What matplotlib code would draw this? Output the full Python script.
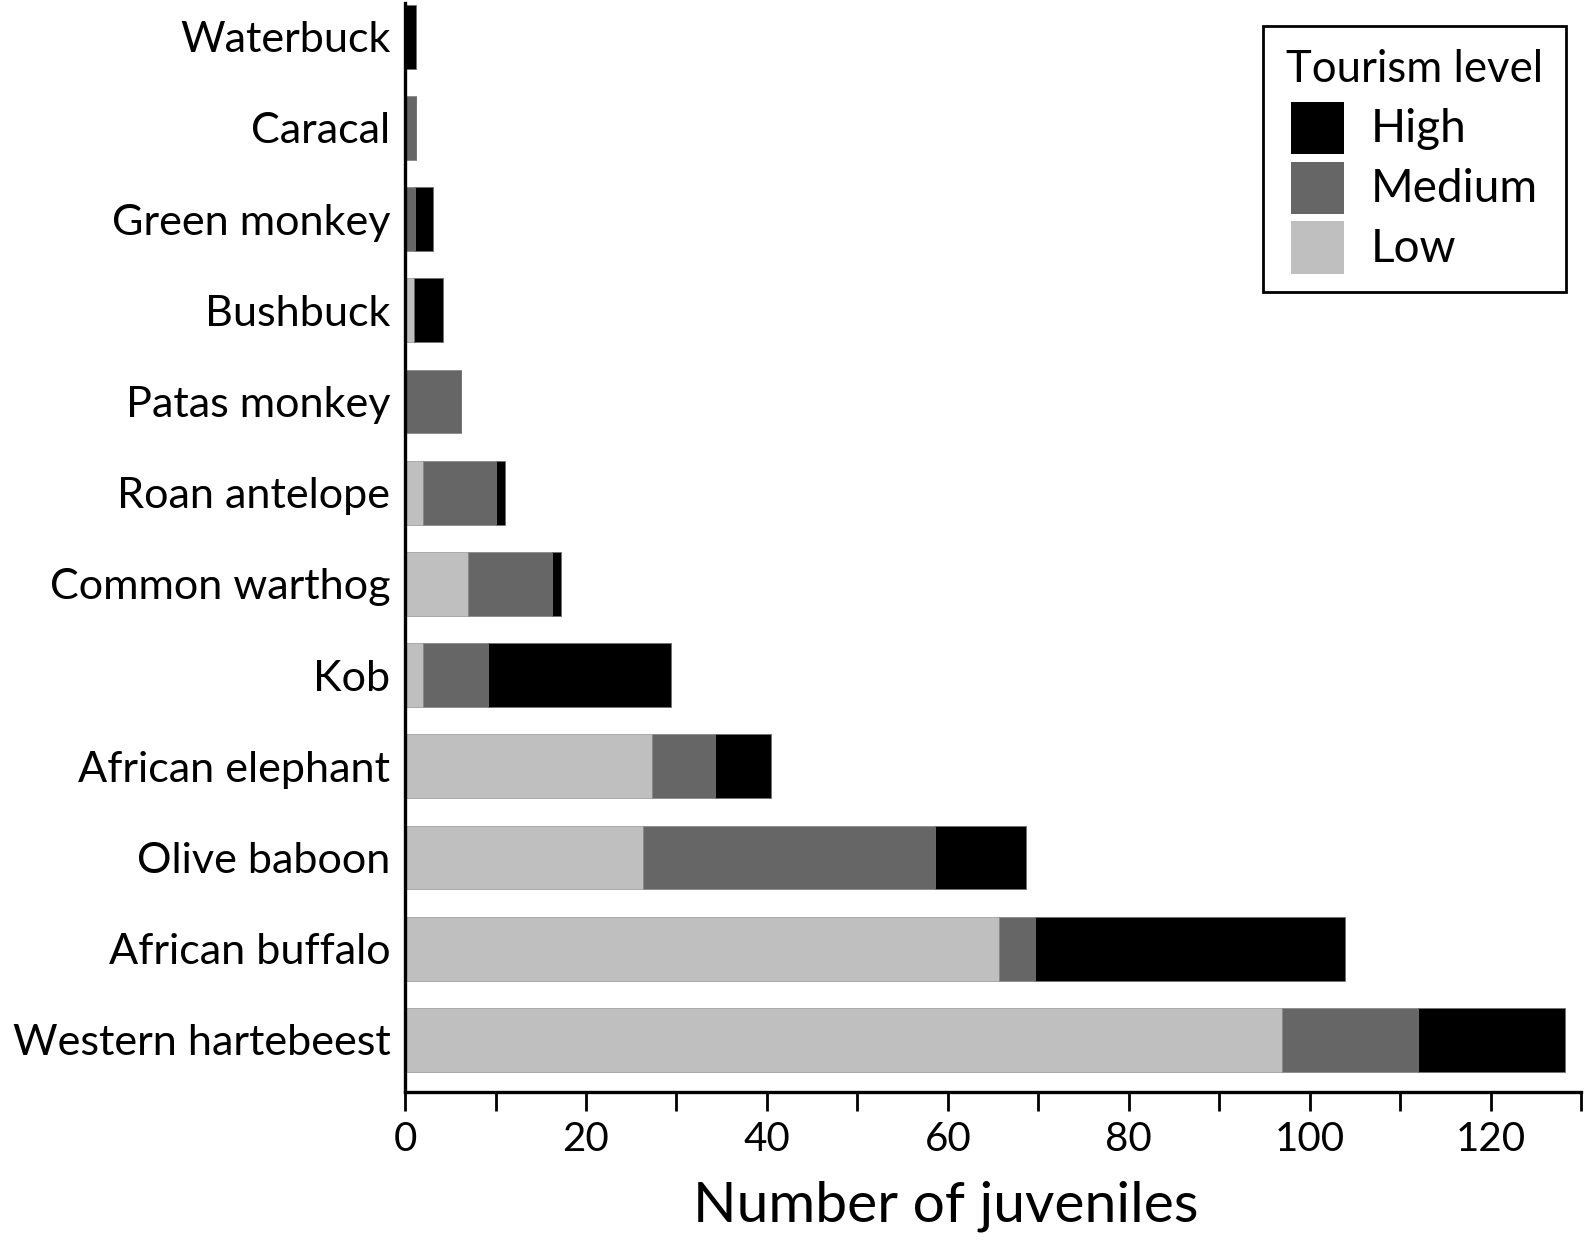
import matplotlib
matplotlib.use('Agg')
import numpy as np
from matplotlib import pyplot as plt
from matplotlib.ticker import MultipleLocator
from matplotlib.patches import Rectangle
from matplotlib.legend_handler import HandlerPatch

plt.rcParams['font.family'] = ['Lato', 'DejaVu Sans']

# species, bottom bar first
species = ['Western hartebeest', 'African buffalo', 'Olive baboon', 'African elephant',
           'Kob', 'Common warthog', 'Roan antelope', 'Patas monkey', 'Bushbuck',
           'Green monkey', 'Caracal', 'Waterbuck']
low = [97, 65.7, 26.3, 27.3, 2, 7, 2, 0, 1, 0, 0, 0]
medium = [15, 3.9, 32.3, 7, 7.2, 9.2, 8, 6.2, 0, 1.1, 1.2, 0]
high = [16.2, 34.3, 10, 6.1, 20.2, 1, 1, 0, 3.2, 2, 0, 1.2]

colors = {'Low': '#bfbfbf', 'Medium': '#666666', 'High': '#000000'}


class SquareHandler(HandlerPatch):
    # big square legend key, centred on the text line
    def create_artists(self, legend, orig_handle, xdescent, ydescent, width, height, fontsize, trans):
        size = 1.15 * fontsize
        cx = -xdescent + width / 2
        cy = -ydescent + height / 2 - 0.05 * fontsize
        p = Rectangle((cx - size / 2, cy - size / 2), size, size,
                      facecolor=orig_handle.get_facecolor(), edgecolor='none', transform=trans)
        return [p]


fig = plt.figure(figsize=(15.91, 12.4), dpi=100)
ax = fig.add_axes([0.2546, 0.1194, 0.9937 - 0.2546, 0.9976 - 0.1194])

y = np.arange(len(species))
low = np.array(low)
medium = np.array(medium)
high = np.array(high)

b_low = ax.barh(y, low, height=0.7, color=colors['Low'], edgecolor='#a0a0a0', linewidth=0.6)
b_med = ax.barh(y, medium, left=low, height=0.7, color=colors['Medium'], edgecolor='#8a8a8a', linewidth=0.6)
b_high = ax.barh(y, high, left=low + medium, height=0.7, color=colors['High'], edgecolor='#707070', linewidth=0.6)

ax.set_yticks(y)
ax.set_yticklabels(species, fontsize=31.1)
ax.set_ylim(-0.57, 11.37)
ax.set_xlim(0, 130)
ax.xaxis.set_major_locator(MultipleLocator(20))
ax.xaxis.set_minor_locator(MultipleLocator(10))
ax.tick_params(axis='x', which='both', direction='out', length=14, width=2, labelsize=29, pad=7)
ax.tick_params(axis='y', length=0, pad=10.5)
ax.set_xlabel('Number of juveniles', fontsize=41, labelpad=16, x=0.46)

for s in ['top', 'right']:
    ax.spines[s].set_visible(False)
for s in ['left', 'bottom']:
    ax.spines[s].set_linewidth(2.4)

handles = [Rectangle((0, 0), 1, 1, facecolor=colors[k]) for k in ['High', 'Medium', 'Low']]
leg = ax.legend(handles, ['High', 'Medium', 'Low'], title='Tourism level',
                handler_map={Rectangle: SquareHandler()},
                fontsize=33, title_fontsize=31.5, loc='upper right',
                bbox_to_anchor=(1566 / 1591, 1 - 26 / 1240), bbox_transform=fig.transFigure,
                borderaxespad=0, fancybox=False, edgecolor='black', framealpha=1,
                handlelength=1.15, handleheight=0.7, labelspacing=0.39, handletextpad=0.59,
                borderpad=0.5)
leg.get_frame().set_linewidth(2)

fig.savefig('out.png', dpi=100)
